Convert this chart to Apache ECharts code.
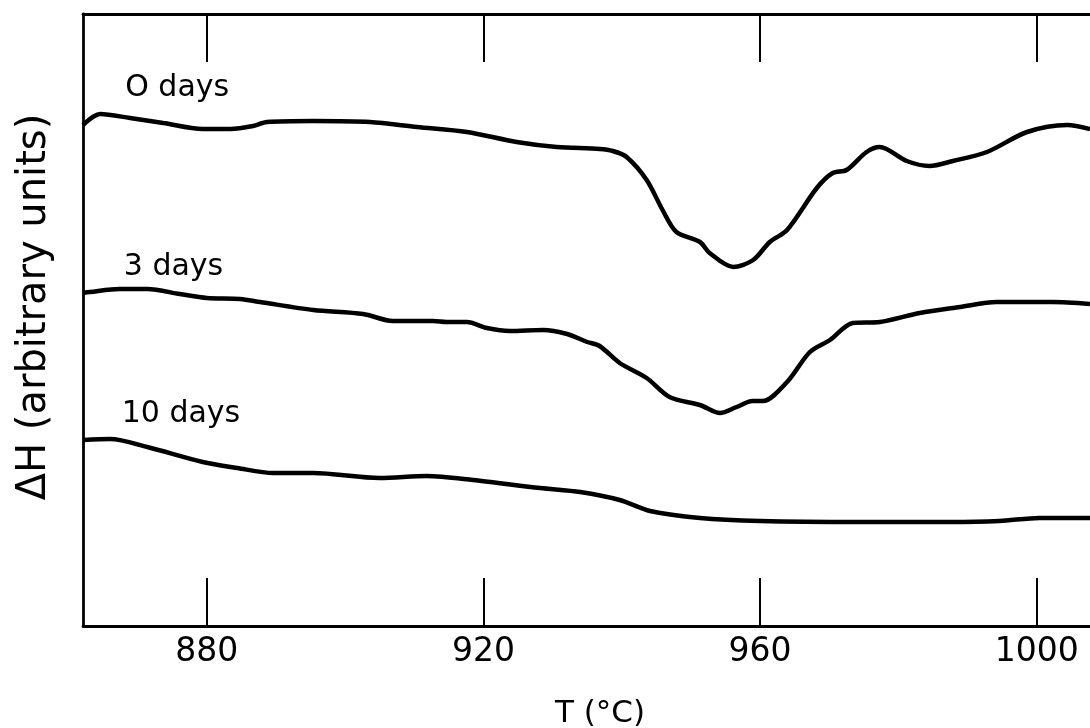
<!DOCTYPE html>
<html>
<head>
<meta charset="utf-8">
<script src="https://cdn.jsdelivr.net/npm/echarts@6/dist/echarts.min.js"></script>
<style>html,body{margin:0;padding:0;background:#fff}#c{width:1090px;height:728px}</style>
</head>
<body>
<div id="c"></div>
<script>
// Temperature (°C) and ΔH (arbitrary units)
const t0 = [862.1,864.6,868.9,873.7,879.4,883.4,886.7,888.7,895.4,903.6,910.4,917.6,924.8,930.6,936.8,938.7,940.7,943.6,945.9,947.9,951.3,952.7,956.1,959.0,961.4,963.9,968.2,970.5,972.5,975.4,977.3,981.2,984.5,987.9,992.8,998.6,1004.4,1007.7];
const h0 = [501,512,508,503,497,497,500,504,505,504,499,494,484,479,477,475,469,446,416,394,384,373,359,366,384,396,438,453,456,474,479,465,460,465,474,494,501,497];
const t3 = [862.1,863.1,867.4,871.4,876.1,880.0,884.8,887.7,895.4,902.6,906.9,912.7,914.7,917.6,920.5,923.8,928.6,932.1,935.0,936.8,939.7,943.6,946.9,951.3,954.2,956.6,958.9,960.4,963.9,967.2,970.1,973.4,977.3,983.1,988.9,994.2,1002.3,1007.7];
const h3 = [333,334,337,337,332,328,327,324,316,312,305,305,304,304,298,295,296,292,284,280,263,248,229,221,213,219,225,225,244,274,286,303,304,313,319,324,324,322];
const t10 = [862.1,866.0,871.4,879.4,884.4,889.6,895.4,905.0,911.8,918.5,928.2,934.0,939.7,944.1,951.3,960.0,974.4,987.4,994.6,1000.4,1007.7];
const h10 = [186,187,179,164,158,153,153,148,150,146,138,134,126,115,108,105,104,104,105,108,108];
const seriesNames = ['O days','3 days','10 days'];
const xTicks = [880,920,960,1000];

const zip = (a,b) => a.map((v,i)=>[v,b[i]]);
const font = '"DejaVu Sans", sans-serif';
const labelAt = [[868.2,538],[868.0,359],[867.7,212]];
const datasets = [zip(t0,h0), zip(t3,h3), zip(t10,h10)];

const chart = echarts.init(document.getElementById('c'));
const axisCommon = {
  type:'value', min:862.1, max:1007.7,
  axisLine:{show:true,onZero:false,lineStyle:{color:'#000',width:2.8}},
  axisTick:{show:true,inside:true,length:48,customValues:xTicks,lineStyle:{color:'#000',width:2}},
  splitLine:{show:false}
};
chart.setOption({
  animation:false,
  backgroundColor:'#fff',
  grid:{left:83,right:0,top:14,bottom:102,containLabel:false,outerBoundsMode:'none'},
  xAxis:[
    Object.assign({}, axisCommon, {
      position:'bottom',
      name:'T (°C)', nameLocation:'middle', nameGap:72,
      nameTextStyle:{fontFamily:font,fontSize:31,color:'#000',padding:[0,0,0,27]},
      axisLabel:{show:true,customValues:xTicks,margin:10,fontFamily:font,fontSize:33,color:'#000',formatter:v=>String(v)}
    }),
    Object.assign({}, axisCommon, {position:'top', axisLabel:{show:false}})
  ],
  yAxis:{
    type:'value', min:0, max:612,
    axisLine:{show:true,lineStyle:{color:'#000',width:2.8}},
    axisTick:{show:false}, axisLabel:{show:false}, splitLine:{show:false},
    name:'ΔH (arbitrary units)', nameLocation:'middle', nameGap:28,
    nameTextStyle:{fontFamily:font,fontSize:40,color:'#000',padding:[0,0,0,26]}
  },
  series: datasets.map((d,i)=>({
    type:'line', name:seriesNames[i], data:d, smooth:0.3, symbol:'none',
    lineStyle:{color:'#000',width:4.5}
  }))
});
chart.setOption({
  graphic: labelAt.map((c,i)=>{
    const p = chart.convertToPixel({xAxisIndex:0,yAxisIndex:0}, c);
    return {type:'text', x:p[0], y:p[1], silent:true,
      style:{text:seriesNames[i], font:'30px '+font, fill:'#000', textAlign:'left', textVerticalAlign:'middle'}};
  })
});
</script>
</body>
</html>
